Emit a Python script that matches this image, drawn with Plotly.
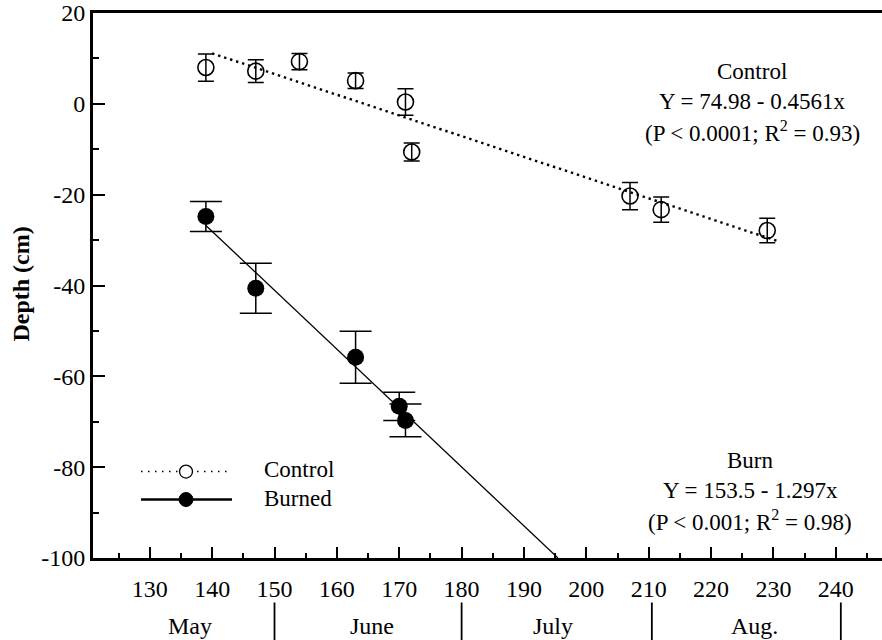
import numpy as np
import plotly.graph_objects as go

# ---- data ----
ctrl_day = [139, 147, 154, 163, 171, 172, 207, 212, 229]
ctrl_depth = [8.0, 7.2, 9.3, 5.1, 0.4, -10.6, -20.3, -23.3, -27.9]
ctrl_se = [3.0, 2.5, 1.8, 1.7, 2.9, 2.0, 3.0, 2.8, 2.7]

burn_day = [139, 147, 163, 170, 171]
burn_depth = [-24.8, -40.6, -55.8, -66.6, -69.7]
burn_se = [3.3, 5.5, 5.7, 3.1, 3.6]

ctrl_fit = (74.98, -0.4561)   # intercept, slope
ctrl_fit_range = [140, 231]
burn_fit = (153.5, -1.297)
burn_fit_range = [139, (153.5 + 100) / 1.297]

months = ["May", "June", "July", "Aug."]
month_centers = [136.5, 165.6, 194.6, 227.0]
month_bounds = [150, 180, 210.5, 240.8]

x_ticks = list(range(130, 241, 10))
y_ticks = [20, 0, -20, -40, -60, -80, -100]
y_ticktext = ["20", "0", "-20", "-40", "-60", "-80", "-100"]

FONT = "Liberation Serif"
FS = 23

# pixel -> paper helpers (plot area: x 93..882, y 13.3..558.5)
L, R, T, B = 93, 882, 13.3, 558.5
PW, PH = R - L, B - T
def px(xp):
    return (xp - L) / PW
def py(yp):
    return (B - yp) / PH

fig = go.Figure()

fig.add_trace(go.Scatter(
    x=ctrl_day, y=ctrl_depth, mode="markers",
    marker=dict(symbol="circle-open", size=16, color="black", line=dict(width=1.6, color="black")),
    error_y=dict(type="data", array=ctrl_se, visible=True, color="black", thickness=1.5, width=8),
    showlegend=False))

fig.add_trace(go.Scatter(
    x=burn_day, y=burn_depth, mode="markers",
    marker=dict(symbol="circle", size=17, color="black"),
    error_y=dict(type="data", array=burn_se, visible=True, color="black", thickness=1.5, width=16),
    showlegend=False))

cx = np.array(ctrl_fit_range)
fig.add_trace(go.Scatter(x=cx, y=ctrl_fit[0] + ctrl_fit[1] * cx, mode="lines",
                         line=dict(color="black", width=2.4, dash="2.4px,3.9px"), showlegend=False))
bx = np.array(burn_fit_range)
fig.add_trace(go.Scatter(x=bx, y=burn_fit[0] + burn_fit[1] * bx, mode="lines",
                         line=dict(color="black", width=1.3), showlegend=False))

# ---- layout ----
fig.update_layout(
    width=882, height=640,
    margin=dict(l=L, r=0, t=T, b=640 - B, pad=0),
    paper_bgcolor="white", plot_bgcolor="white",
    font=dict(family=FONT, size=FS, color="black"),
    showlegend=False,
    xaxis=dict(range=[120.9, 247.4], tickvals=x_ticks, ticks="inside", ticklen=11, tickwidth=1.5,
               tickcolor="black", showline=True, linewidth=3, linecolor="black", mirror=True,
               showgrid=False, zeroline=False, ticklabelstandoff=7,
               tickfont=dict(size=FS + 1, family=FONT),
               minor=dict(dtick=5, tick0=0, ticks="inside", ticklen=5, tickwidth=1.5, tickcolor="black", showgrid=False)),
    yaxis=dict(range=[-100, 20], tickvals=y_ticks, ticktext=y_ticktext, ticks="inside", ticklen=12,
               tickwidth=1.5, tickcolor="black", showline=True, linewidth=3, linecolor="black",
               showgrid=False, zeroline=False, ticklabelstandoff=0,
               tickfont=dict(size=FS + 1, family=FONT),
               minor=dict(dtick=10, tick0=0, ticks="inside", ticklen=6, tickwidth=1.5, tickcolor="black", showgrid=False)),
)

def label(xp, yp, text, xanchor="center", size=FS, bold=False, angle=0):
    fig.add_annotation(x=px(xp), y=py(yp), xref="paper", yref="paper",
                       text=f"<b>{text}</b>" if bold else text, showarrow=False, textangle=angle,
                       xanchor=xanchor, yanchor="middle", font=dict(size=size, family=FONT))

# y-axis title
label(21, 285, "Depth (cm)", size=FS + 1, bold=True, angle=-90)

# month labels & separators
for m, c in zip(months, month_centers):
    fig.add_annotation(x=c, y=py(627), xref="x", yref="paper", text=m, showarrow=False,
                       xanchor="center", yanchor="middle", font=dict(size=FS + 1, family=FONT))
for b in month_bounds:
    fig.add_shape(type="line", xref="x", yref="paper", x0=b, x1=b,
                  y0=py(603), y1=py(641), line=dict(color="black", width=1.8))

# regression texts
ctrl_lines = ["Control", "Y = 74.98 - 0.4561x", "(P < 0.0001; R<sup>2</sup> = 0.93)"]
burn_lines = ["Burn", "Y = 153.5 - 1.297x", "(P < 0.001; R<sup>2</sup> = 0.98)"]
for i, t in enumerate(ctrl_lines):
    label(752, 72 + 30 * i, t)
for i, t in enumerate(burn_lines):
    label(750, 461 + 30 * i, t)

# legend (drawn manually)
fig.add_shape(type="line", xref="paper", yref="paper", x0=px(141), x1=px(227), y0=py(472), y1=py(472),
              line=dict(color="black", width=1.5, dash="1.5px,5.5px"))
fig.add_shape(type="circle", xref="paper", yref="paper", x0=px(179.5), x1=px(192.5), y0=py(465.5), y1=py(478.5),
              line=dict(color="black", width=1.3), fillcolor="white")
fig.add_shape(type="line", xref="paper", yref="paper", x0=px(141), x1=px(232), y0=py(500), y1=py(500),
              line=dict(color="black", width=2.5))
fig.add_shape(type="circle", xref="paper", yref="paper", x0=px(179), x1=px(193), y0=py(493), y1=py(507),
              line=dict(color="black", width=1), fillcolor="black")
label(262, 470, "Control", xanchor="left")
label(262, 499, "Burned", xanchor="left")

fig.write_html("out.html")
